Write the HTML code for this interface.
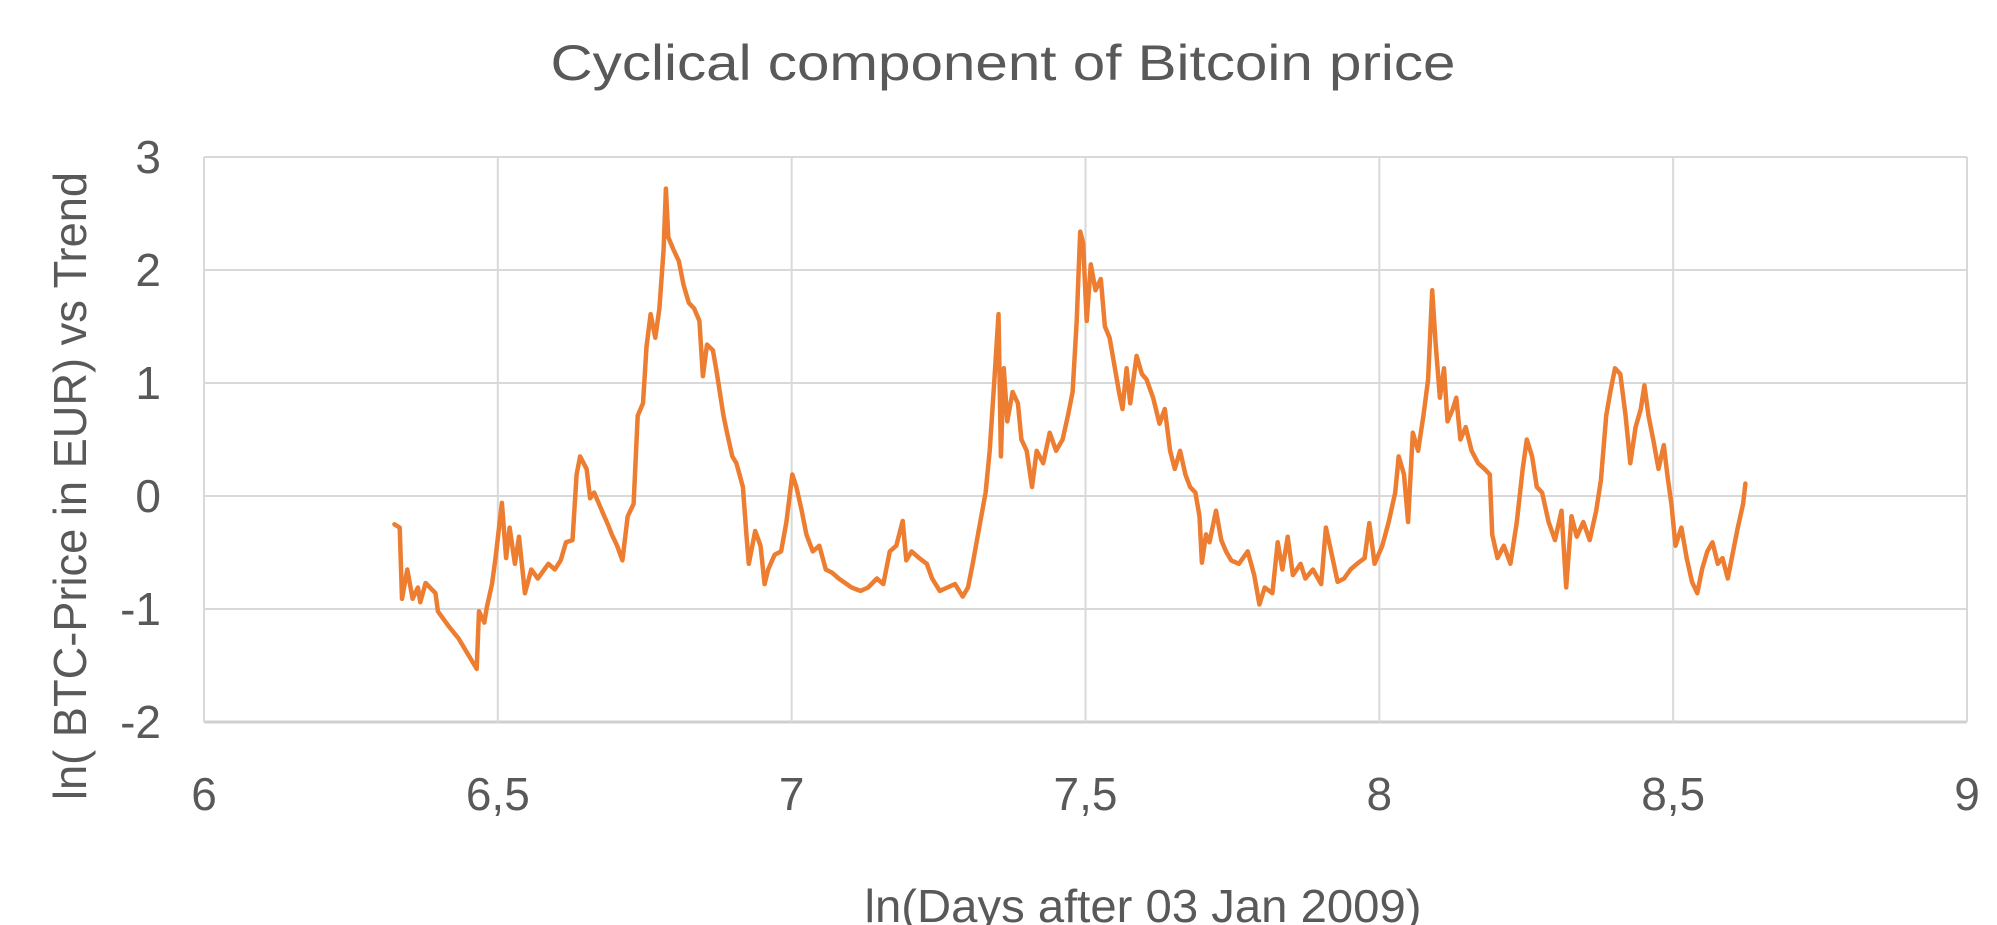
<!DOCTYPE html>
<html><head><meta charset="utf-8"><style>
html,body{margin:0;padding:0;background:#fff;}
svg{display:block;font-family:"Liberation Sans",sans-serif;}
</style></head><body>
<svg id="chart" width="1997" height="925" viewBox="0 0 1997 925">
<text x="1003" y="80" font-size="50" fill="#595959" text-anchor="middle" textLength="905" lengthAdjust="spacingAndGlyphs">Cyclical component of Bitcoin price</text>
<g id="grid"></g>
<g id="yticks"></g>
<g id="xticks"></g>
<g id="series"></g>
<text transform="translate(86,486) rotate(-90)" font-size="46" fill="#595959" text-anchor="middle" textLength="628" lengthAdjust="spacingAndGlyphs">ln( BTC-Price in EUR) vs Trend</text>
<text x="1143" y="922" font-size="46" fill="#595959" text-anchor="middle" textLength="557" lengthAdjust="spacingAndGlyphs">ln(Days after 03 Jan 2009)</text>
</svg>
<script>
const xTickValues=[6,6.5,7,7.5,8,8.5,9];
const xTickLabels=["6","6,5","7","7,5","8","8,5","9"];
const yTickValues=[3,2,1,0,-1,-2];
const yTickLabels=["3","2","1","0","-1","-2"];
const seriesX=[6.324,6.333,6.337,6.346,6.355,6.364,6.368,6.377,6.394,6.398,6.416,6.433,6.448,6.464,6.468,6.477,6.481,6.490,6.496,6.507,6.514,6.520,6.529,6.536,6.546,6.557,6.568,6.586,6.597,6.607,6.616,6.627,6.634,6.640,6.651,6.657,6.664,6.677,6.688,6.694,6.703,6.712,6.721,6.731,6.738,6.747,6.753,6.760,6.768,6.775,6.782,6.786,6.790,6.799,6.808,6.816,6.825,6.834,6.843,6.849,6.856,6.866,6.873,6.884,6.890,6.899,6.906,6.917,6.923,6.927,6.938,6.947,6.954,6.960,6.971,6.982,6.991,7.001,7.008,7.017,7.025,7.036,7.047,7.058,7.069,7.080,7.102,7.117,7.130,7.145,7.156,7.167,7.178,7.189,7.195,7.204,7.217,7.230,7.239,7.252,7.265,7.278,7.291,7.300,7.308,7.317,7.330,7.337,7.345,7.352,7.356,7.361,7.367,7.376,7.385,7.391,7.400,7.409,7.417,7.428,7.439,7.450,7.461,7.470,7.478,7.485,7.491,7.496,7.502,7.509,7.517,7.526,7.533,7.541,7.550,7.557,7.563,7.570,7.576,7.587,7.596,7.604,7.615,7.626,7.635,7.644,7.652,7.661,7.670,7.678,7.687,7.694,7.698,7.705,7.711,7.722,7.731,7.739,7.748,7.761,7.776,7.787,7.796,7.805,7.818,7.827,7.835,7.844,7.853,7.866,7.874,7.887,7.901,7.909,7.918,7.929,7.940,7.951,7.962,7.975,7.983,7.992,8.005,8.016,8.027,8.033,8.042,8.049,8.057,8.066,8.075,8.083,8.090,8.096,8.103,8.110,8.116,8.125,8.131,8.138,8.147,8.157,8.168,8.179,8.188,8.192,8.201,8.212,8.223,8.234,8.244,8.251,8.260,8.268,8.277,8.288,8.299,8.310,8.318,8.327,8.336,8.347,8.358,8.369,8.377,8.386,8.393,8.401,8.410,8.419,8.427,8.436,8.445,8.451,8.458,8.466,8.475,8.484,8.490,8.497,8.504,8.514,8.523,8.532,8.541,8.549,8.558,8.567,8.576,8.584,8.593,8.602,8.610,8.619,8.623];
const seriesY=[-0.25,-0.28,-0.91,-0.65,-0.91,-0.81,-0.94,-0.77,-0.86,-1.02,-1.15,-1.26,-1.39,-1.53,-1.02,-1.12,-0.99,-0.78,-0.55,-0.06,-0.55,-0.28,-0.60,-0.36,-0.86,-0.65,-0.73,-0.60,-0.65,-0.57,-0.41,-0.39,0.19,0.35,0.24,-0.02,0.03,-0.13,-0.26,-0.34,-0.44,-0.57,-0.18,-0.07,0.71,0.82,1.32,1.61,1.40,1.66,2.18,2.72,2.29,2.18,2.08,1.87,1.71,1.66,1.55,1.06,1.34,1.29,1.08,0.71,0.56,0.35,0.29,0.08,-0.34,-0.60,-0.31,-0.44,-0.78,-0.65,-0.52,-0.49,-0.23,0.19,0.08,-0.13,-0.34,-0.49,-0.44,-0.65,-0.68,-0.73,-0.81,-0.84,-0.81,-0.73,-0.78,-0.49,-0.44,-0.22,-0.57,-0.49,-0.55,-0.60,-0.73,-0.84,-0.81,-0.78,-0.89,-0.81,-0.60,-0.34,0.03,0.40,1.03,1.61,0.35,1.13,0.66,0.92,0.82,0.50,0.40,0.08,0.40,0.29,0.56,0.40,0.50,0.71,0.92,1.55,2.34,2.24,1.55,2.05,1.82,1.92,1.50,1.40,1.13,0.92,0.77,1.13,0.82,1.24,1.08,1.03,0.87,0.64,0.77,0.40,0.24,0.40,0.19,0.08,0.03,-0.18,-0.59,-0.34,-0.41,-0.13,-0.39,-0.49,-0.57,-0.60,-0.49,-0.70,-0.96,-0.81,-0.86,-0.41,-0.65,-0.36,-0.70,-0.60,-0.73,-0.65,-0.78,-0.28,-0.49,-0.76,-0.73,-0.65,-0.60,-0.55,-0.24,-0.60,-0.44,-0.23,0.03,0.35,0.19,-0.23,0.56,0.40,0.71,1.03,1.82,1.34,0.87,1.13,0.66,0.77,0.87,0.50,0.61,0.40,0.29,0.24,0.19,-0.34,-0.55,-0.44,-0.60,-0.23,0.24,0.50,0.35,0.08,0.03,-0.23,-0.39,-0.13,-0.81,-0.18,-0.36,-0.23,-0.39,-0.13,0.14,0.71,0.92,1.13,1.08,0.71,0.29,0.61,0.77,0.98,0.71,0.50,0.24,0.45,0.19,-0.07,-0.44,-0.28,-0.55,-0.76,-0.86,-0.65,-0.49,-0.41,-0.60,-0.55,-0.73,-0.49,-0.28,-0.07,0.11];

const NS="http://www.w3.org/2000/svg";
const X0=204,X1=1967,Y0=157,Y1=722;
const xMin=6,xMax=9,yMin=-2,yMax=3;
function sx(v){return X0+(v-xMin)/(xMax-xMin)*(X1-X0);}
function sy(v){return Y1-(v-yMin)/(yMax-yMin)*(Y1-Y0);}
const grid=document.getElementById('grid');
const yt=document.getElementById('yticks');
const xt=document.getElementById('xticks');
yTickValues.forEach((v,i)=>{
  const l=document.createElementNS(NS,'line');
  
  
  l.setAttribute('x1',X0);l.setAttribute('x2',X1);
  l.setAttribute('y1',sy(v));l.setAttribute('y2',sy(v));
  l.setAttribute('stroke',v===-2?'#d0d0d0':'#d9d9d9');l.setAttribute('stroke-width',v===-2?3:2);
  grid.appendChild(l);
  const t=document.createElementNS(NS,'text');
  
  
  t.setAttribute('x',161);t.setAttribute('y',sy(v)+16);
  t.setAttribute('text-anchor','end');t.setAttribute('font-size','46');t.setAttribute('fill','#595959');
  t.textContent=yTickLabels[i];
  yt.appendChild(t);
});
xTickValues.forEach((v,i)=>{
  const l=document.createElementNS(NS,'line');
  
  
  l.setAttribute('x1',sx(v));l.setAttribute('x2',sx(v));
  l.setAttribute('y1',Y0);l.setAttribute('y2',Y1);
  l.setAttribute('stroke','#d9d9d9');l.setAttribute('stroke-width',2);
  grid.appendChild(l);
  const t=document.createElementNS(NS,'text');
  
  
  t.setAttribute('x',sx(v));t.setAttribute('y',810);
  t.setAttribute('text-anchor','middle');t.setAttribute('font-size','46');t.setAttribute('fill','#595959');
  t.textContent=xTickLabels[i];
  xt.appendChild(t);
});
const p=document.createElementNS(NS,'polyline');


p.setAttribute('points',seriesX.map((x,i)=>sx(x).toFixed(1)+','+sy(seriesY[i]).toFixed(1)).join(' '));
p.setAttribute('fill','none');p.setAttribute('stroke','#ED7D31');p.setAttribute('stroke-width','4.5');
p.setAttribute('stroke-linejoin','round');p.setAttribute('stroke-linecap','round');
document.getElementById('series').appendChild(p);
</script>
</body></html>
